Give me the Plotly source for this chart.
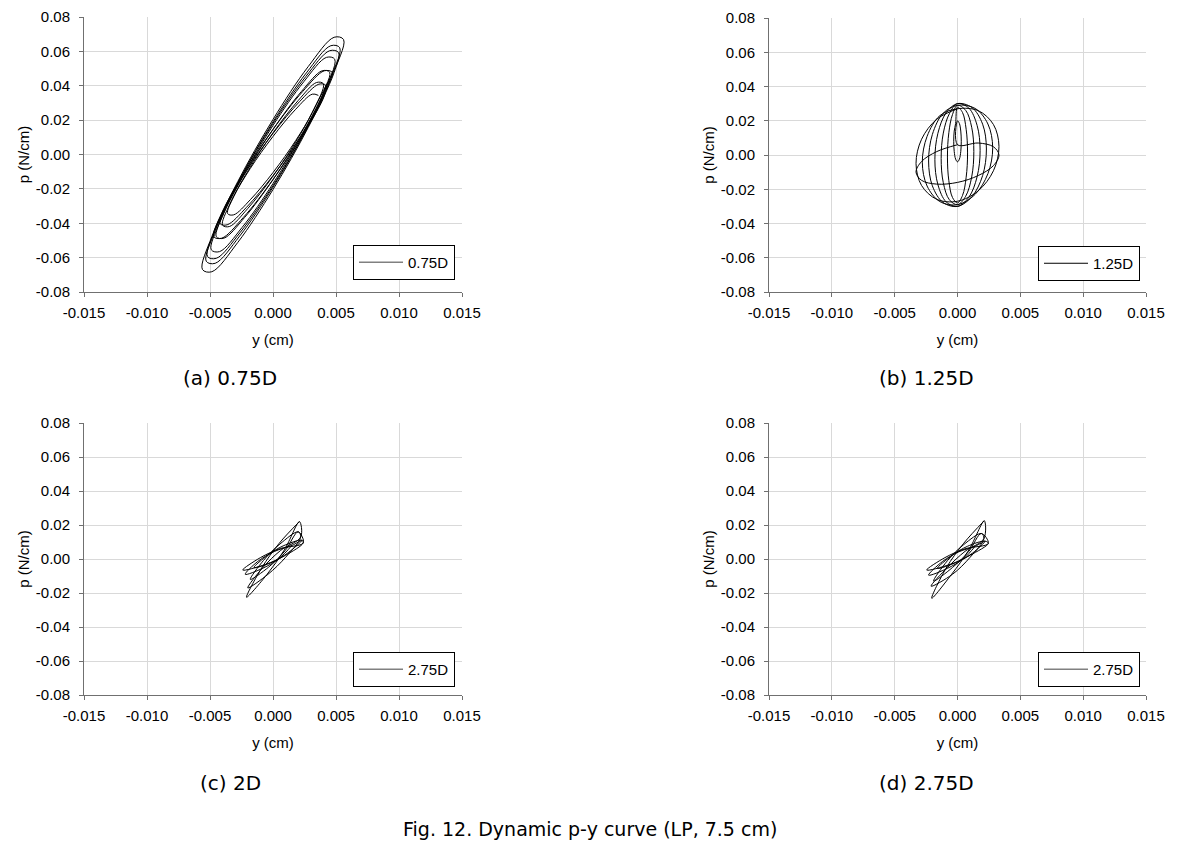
import plotly.graph_objects as go

# ---------------- data ----------------
X_TICK_VALS = [-0.015, -0.010, -0.005, 0.000, 0.005, 0.010, 0.015]
X_TICK_TEXT = ["-0.015", "-0.010", "-0.005", "0.000", "0.005", "0.010", "0.015"]
Y_TICK_VALS = [-0.08, -0.06, -0.04, -0.02, 0.00, 0.02, 0.04, 0.06, 0.08]
Y_TICK_TEXT = ["-0.08", "-0.06", "-0.04", "-0.02", "0.00", "0.02", "0.04", "0.06", "0.08"]

# (a) 0.75D  - nested elongated hysteresis loops
a_y = [0.0036, 0.00312, 0.0018, 0, -0.0018, -0.00312, -0.0036, -0.00312, -0.0018, 0, 0.0018, 0.00312,
       0.0040, 0.00346, 0.0020, 0, -0.0020, -0.00346, -0.0040, -0.00346, -0.0020, 0, 0.0020, 0.00346,
       0.0045, 0.0039, 0.00225, 0, -0.00225, -0.0039, -0.0045, -0.0039, -0.00225, 0, 0.00225, 0.0039,
       0.0049, 0.00424, 0.00245, 0, -0.00245, -0.00424, -0.0049, -0.00424, -0.00245, 0, 0.00245, 0.00424,
       0.0053, 0.00459, 0.00265, 0, -0.00265, -0.00459, -0.0053, -0.00459, -0.00265, 0, 0.00265, 0.00459,
       0.0056, 0.00485, 0.0028, 0, -0.0028, -0.00485, -0.0056, -0.00485, -0.0028, 0, 0.0028, 0.00485,
       0.0052, 0.0045, 0.0026, 0, -0.0026, -0.0045, -0.0052, -0.0045, -0.0026, 0, 0.0026, 0.0045,
       0.0047, 0.00407, 0.00235, 0, -0.00235, -0.00407, -0.0047, -0.00407, -0.00235, 0, 0.00235, 0.00407,
       0.0042, 0.00364, 0.0021, 0, -0.0021, -0.00364, -0.0042, -0.00364, -0.0021, 0, 0.0021, 0.00364, 0.0042]
a_p = [0.0344, 0.0351, 0.0263, 0.0105, -0.0081, -0.0246, -0.0344, -0.0351, -0.0263, -0.0105, 0.0081, 0.0246,
       0.0411, 0.0419, 0.0314, 0.0126, -0.0097, -0.0293, -0.0411, -0.0419, -0.0314, -0.0126, 0.0097, 0.0293,
       0.0478, 0.0487, 0.0366, 0.0146, -0.0113, -0.0341, -0.0478, -0.0487, -0.0366, -0.0146, 0.0113, 0.0341,
       0.0554, 0.0565, 0.0424, 0.0169, -0.0131, -0.0396, -0.0554, -0.0565, -0.0424, -0.0169, 0.0131, 0.0396,
       0.0621, 0.0633, 0.0475, 0.0190, -0.0146, -0.0443, -0.0621, -0.0633, -0.0475, -0.0190, 0.0146, 0.0443,
       0.0669, 0.0682, 0.0512, 0.0204, -0.0158, -0.0477, -0.0669, -0.0682, -0.0512, -0.0204, 0.0158, 0.0477,
       0.0593, 0.0604, 0.0453, 0.0181, -0.0140, -0.0423, -0.0593, -0.0604, -0.0453, -0.0181, 0.0140, 0.0423,
       0.0478, 0.0487, 0.0366, 0.0146, -0.0113, -0.0341, -0.0478, -0.0487, -0.0366, -0.0146, 0.0113, 0.0341,
       0.0402, 0.0409, 0.0307, 0.0123, -0.0095, -0.0286, -0.0402, -0.0409, -0.0307, -0.0123, 0.0095, 0.0286, 0.0402]

# (b) 1.25D  - ball of vertical loops plus one flat loop
b_y = [0, -0.00165, -0.00286, -0.0033, -0.00286, -0.00165, 0, 0.00165, 0.00286, 0.0033, 0.00286, 0.00165, 0,
       0, 0.00015, 0.00026, 0.0003, 0.00026, 0.00015, 0, -0.00015, -0.00026, -0.0003, -0.00026, -0.00015,
       0, 0.0004, 0.00069, 0.0008, 0.00069, 0.0004, 0, -0.0004, -0.00069, -0.0008, -0.00069, -0.0004,
       0, 0.00065, 0.00113, 0.0013, 0.00113, 0.00065, 0, -0.00065, -0.00113, -0.0013, -0.00113, -0.00065,
       0, 0.0009, 0.00156, 0.0018, 0.00156, 0.0009, 0, -0.0009, -0.00156, -0.0018, -0.00156, -0.0009,
       0, 0.00115, 0.0020, 0.0023, 0.0020, 0.00115, 0, -0.00115, -0.0020, -0.0023, -0.0020, -0.00115,
       0, 0.0014, 0.00242, 0.0028, 0.00242, 0.0014, 0, -0.0014, -0.00242, -0.0028, -0.00242, -0.0014,
       0, 0.00165, 0.00286, 0.0033, 0.00286, 0.00165, 0, -0.00165, -0.00286, -0.0033, -0.00286, -0.00165, 0]
b_p = [0.006, 0.002, -0.0038, -0.010, -0.0148, -0.017, -0.016, -0.012, -0.0062, 0.0, 0.0048, 0.007, 0.006,
       0.020, 0.0184, 0.014, 0.008, 0.002, -0.0024, -0.004, -0.0024, 0.002, 0.008, 0.014, 0.0184,
       0.028, 0.0248, 0.015, 0.0012, -0.013, -0.0236, -0.028, -0.0248, -0.015, -0.0012, 0.013, 0.0236,
       0.029, 0.0261, 0.0162, 0.002, -0.0128, -0.0241, -0.029, -0.0261, -0.0162, -0.002, 0.0128, 0.0241,
       0.030, 0.0274, 0.0173, 0.0027, -0.0127, -0.0247, -0.030, -0.0274, -0.0173, -0.0027, 0.0127, 0.0247,
       0.030, 0.0277, 0.018, 0.0035, -0.012, -0.0243, -0.030, -0.0277, -0.018, -0.0035, 0.012, 0.0243,
       0.029, 0.0272, 0.0181, 0.0042, -0.0109, -0.023, -0.029, -0.0272, -0.0181, -0.0042, 0.0109, 0.023,
       0.027, 0.0259, 0.0178, 0.005, -0.0092, -0.0209, -0.027, -0.0259, -0.0178, -0.005, 0.0092, 0.0209, 0.027]

# (c) 2D  - small needle loops
c_y = [0.0021, 0.0005, -0.0009, -0.0021, -0.0005, 0.0009, 0.0021,
       0.0022, 0.0006, -0.0008, -0.0020, -0.0004, 0.0010, 0.0022,
       0.0020, 0.00055, -0.00075, -0.0018, -0.00035, 0.00095, 0.0020,
       0.0024, 0.0006, -0.0010, -0.0024, -0.0006, 0.0010, 0.0024,
       0.0023, 0.0008, -0.0004, -0.0015, 0.0, 0.0012, 0.0023,
       0.0015, 0.0001, -0.0012, -0.0022, -0.0008, 0.0005, 0.0015]
c_p = [0.022, 0.0093, -0.0053, -0.0225, -0.0093, 0.0053, 0.022,
       0.013, 0.005, -0.005, -0.017, -0.009, 0.001, 0.013,
       0.016, 0.0088, -0.0008, -0.012, -0.0048, 0.0048, 0.016,
       0.0095, 0.0062, 0.0008, -0.0065, -0.0032, 0.0022, 0.0095,
       0.011, 0.0077, 0.0023, -0.005, -0.0017, 0.0037, 0.011,
       0.008, 0.0044, -0.0014, -0.009, -0.0054, 0.0004, 0.008]

# (d) 2.75D
d_y = [0.00213, 0.0005, -0.0009, -0.00205, -0.0005, 0.0009, 0.00213,
       0.0021, 0.0006, -0.0008, -0.0021, -0.0004, 0.0010, 0.0021,
       0.0019, 0.0005, -0.0008, -0.0019, -0.0004, 0.0009, 0.0019,
       0.00245, 0.0006, -0.0010, -0.00245, -0.0006, 0.0010, 0.00245,
       0.0022, 0.0008, -0.0004, -0.0016, 0.0, 0.0012, 0.0022,
       0.0014, 0.0001, -0.0012, -0.0023, -0.0008, 0.0005, 0.0014]
d_p = [0.0225, 0.0093, -0.0053, -0.0231, -0.0093, 0.0053, 0.0225,
       0.012, 0.0045, -0.005, -0.016, -0.009, 0.001, 0.012,
       0.015, 0.0085, -0.001, -0.013, -0.005, 0.0045, 0.015,
       0.0092, 0.006, 0.0008, -0.0065, -0.0032, 0.0022, 0.0092,
       0.0105, 0.0075, 0.0022, -0.0055, -0.0017, 0.0035, 0.0105,
       0.0075, 0.0042, -0.0015, -0.0095, -0.0055, 0.0003, 0.0075]

PANELS = [
    # (x data, y data, legend name, legend sample colour, sample width, caption)
    (a_y, a_p, "0.75D", "#808080", 1.5, "(a) 0.75D"),
    (b_y, b_p, "1.25D", "#000000", 1.0, "(b) 1.25D"),
    (c_y, c_p, "2.75D", "#808080", 1.5, "(c) 2D"),
    (d_y, d_p, "2.75D", "#808080", 1.5, "(d) 2.75D"),
]

# ---------------- layout geometry ----------------
W, H = 1186, 847
X_DOMS = [(84, 462), (769, 1146), (84, 462), (769, 1146)]
Y_DOMS = [(17, 292), (18, 292), (423, 695), (423, 695)]
LEG_BOX = [(455, 280), (1140, 281), (455, 687), (1140, 687)]
CAP_POS = [(230, 378), (927, 378), (230, 783), (927, 783)]

FONT = "Liberation Sans, Arial, sans-serif"
CAP_FONT = "DejaVu Sans, sans-serif"
AXIS_COL = "#707070"

fig = go.Figure()
layout = dict(
    width=W, height=H,
    margin=dict(l=0, r=0, t=0, b=0, autoexpand=False),
    paper_bgcolor="white", plot_bgcolor="white",
    showlegend=True,
    font=dict(family=FONT, size=15, color="#000000"),
    annotations=[],
)

for i, (xs, ys, name, lcol, lw, cap) in enumerate(PANELS):
    n = "" if i == 0 else str(i + 1)
    xa, ya = "x" + n, "y" + n
    leg = "legend" + n
    fig.add_trace(go.Scatter(
        x=xs, y=ys, mode="lines", xaxis=xa, yaxis=ya,
        line=dict(color="#000000", width=1, shape="spline", smoothing=1.0),
        showlegend=False, hoverinfo="skip"))
    fig.add_trace(go.Scatter(
        x=[None], y=[None], mode="lines", xaxis=xa, yaxis=ya,
        line=dict(color=lcol, width=lw), name=name, legend=leg, showlegend=True))

    x0, x1 = X_DOMS[i]
    y0, y1 = Y_DOMS[i]
    layout["xaxis" + n] = dict(
        domain=[x0 / W, x1 / W], anchor=ya, range=[-0.015, 0.015], automargin=False,
        tickvals=X_TICK_VALS, ticktext=X_TICK_TEXT,
        showgrid=True, gridcolor="#d9d9d9", gridwidth=1, zeroline=False,
        showline=True, linecolor=AXIS_COL, linewidth=1,
        ticks="outside", ticklen=4, tickcolor=AXIS_COL, ticklabelstandoff=3,
        tickfont=dict(family=FONT, size=15),
        title=dict(text="y (cm)", font=dict(family=FONT, size=15), standoff=14),
    )
    layout["yaxis" + n] = dict(
        domain=[1 - y1 / H, 1 - y0 / H], anchor=xa, range=[-0.08, 0.08], automargin=False,
        tickvals=Y_TICK_VALS, ticktext=Y_TICK_TEXT,
        showgrid=True, gridcolor="#d9d9d9", gridwidth=1, zeroline=False,
        showline=True, linecolor=AXIS_COL, linewidth=1,
        ticks="outside", ticklen=4, tickcolor=AXIS_COL, ticklabelstandoff=6,
        tickfont=dict(family=FONT, size=15),
        title=dict(text="p (N/cm)", font=dict(family=FONT, size=15), standoff=2),
    )
    lx, ly = LEG_BOX[i]
    layout[leg] = dict(
        x=lx / W, y=1 - ly / H, xanchor="right", yanchor="bottom",
        xref="paper", yref="paper",
        bgcolor="white", bordercolor="#000000", borderwidth=1,
        font=dict(family=FONT, size=15), itemwidth=44,
    )
    cx, cy = CAP_POS[i]
    layout["annotations"].append(dict(
        x=cx / W, y=1 - cy / H, xref="paper", yref="paper", text=cap,
        showarrow=False, xanchor="center", yanchor="middle",
        font=dict(family=CAP_FONT, size=20, color="#000000")))

layout["annotations"].append(dict(
    x=590 / W, y=1 - 829 / H, xref="paper", yref="paper",
    text="Fig. 12. Dynamic p-y curve (LP, 7.5 cm)",
    showarrow=False, xanchor="center", yanchor="middle",
    font=dict(family=CAP_FONT, size=19, color="#000000")))

fig.update_layout(**layout)
fig.write_html("out.html", config={"displayModeBar": False},
               post_script="document.body.style.margin='0';")
